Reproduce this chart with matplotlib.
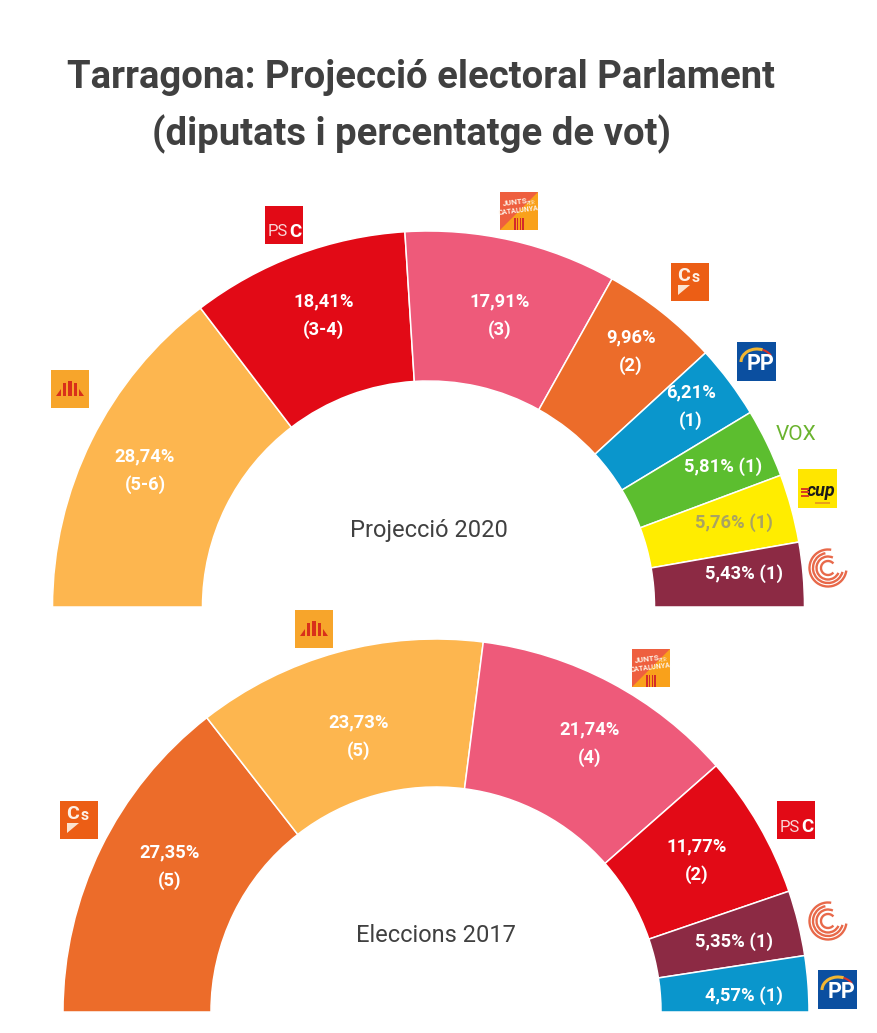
# Projeccio electoral Tarragona: two half donuts, 2020 projection and 2017 results
import matplotlib
matplotlib.use("Agg")
import matplotlib.pyplot as plt
from matplotlib.patches import Arc, Polygon, Rectangle

plt.rcParams['font.family'] = ['Roboto', 'DejaVu Sans']

W, H = 878, 1033

# projection 2020
partits_2020 = ['ERC', 'PSC', 'JxCat', 'Cs', 'PP', 'Vox', 'CUP', 'Comuns']
vots_2020 = [28.74, 18.41, 17.91, 9.96, 6.21, 5.81, 5.76, 5.43]
etiquetes_2020 = ['28,74%\n(5-6)', '18,41%\n(3-4)', '17,91%\n(3)', '9,96%\n(2)', '6,21%\n(1)',
                  '5,81% (1)', '5,76% (1)', '5,43% (1)']

# elections 2017
partits_2017 = ['Cs', 'ERC', 'JxCat', 'PSC', 'Comuns', 'PP']
vots_2017 = [27.35, 23.73, 21.74, 11.77, 5.35, 4.57]
etiquetes_2017 = ['27,35%\n(5)', '23,73%\n(5)', '21,74%\n(4)', '11,77%\n(2)', '5,35% (1)', '4,57% (1)']

colors = {'ERC': '#FDB64F', 'PSC': '#E20A16', 'JxCat': '#EE5A7A', 'Cs': '#EC6C2A',
          'PP': '#0A96CC', 'Vox': '#5CBE2F', 'CUP': '#FFED00', 'Comuns': '#8C2A44'}

# label anchors in image pixels
pos_2020 = [(145, 470), (324, 315), (500, 315), (631, 351), (691, 406), (723, 466), (734, 522), (744, 573)]
pos_2017 = [(170, 866), (359, 736), (590, 743), (697, 860), (734, 941), (744, 995)]
logos_2020 = [(70, 389), (284, 225), (519, 211), (690, 282), (757, 361), (796, 433), (818, 488), (828, 568)]
logos_2017 = [(79, 820), (314, 629), (651, 668), (796, 820), (828, 921), (838, 989)]


def py(y):
    # the picture is measured from the top, the axes from the bottom
    return H - y


fig = plt.figure(figsize=(W / 100, H / 100), dpi=100)
ax = fig.add_axes([0, 0, 1, 1])


def semicercle(valors, partits, centre, radi, gruix):
    # the hidden slice is the lower half of the pie
    parts = valors + [sum(valors)]
    cols = [colors[p] for p in partits] + ['white']
    wedges, _ = ax.pie(parts, colors=cols, startangle=180, counterclock=False, radius=radi,
                       center=(centre[0], py(centre[1])), frame=True,
                       wedgeprops=dict(width=gruix, edgecolor='white', linewidth=1.1))
    wedges[-1].set_visible(False)


def etiquetes(textos, posicions, partits):
    for text, (x, y), p in zip(textos, posicions, partits):
        col = '#A9A362' if p == 'CUP' else 'white'
        ax.text(x, py(y + 1), text, color=col, fontsize=13.2, fontweight='bold', ha='center', va='center',
                linespacing=1.65)


def quadrat(x, y, color, costat=38):
    ax.add_patch(Rectangle((x - costat / 2, py(y) - costat / 2), costat, costat, color=color, lw=0, zorder=3))


# party logos, redrawn by hand
def logo(partit, x, y):
    if partit == 'ERC':
        quadrat(x, y, '#F7A52B')
        base = py(y + 7)
        ax.add_patch(Polygon([(x - 14, base), (x - 9, base), (x - 9, base + 7)], color='#D8301A', lw=0, zorder=4))
        ax.add_patch(Polygon([(x + 14, base), (x + 9, base), (x + 9, base + 7)], color='#D8301A', lw=0, zorder=4))
        for dx, alt in zip([-5.5, 0, 5.5], [13, 15.5, 13]):
            ax.add_patch(Rectangle((x + dx - 1.8, base), 3.6, alt, color='#D8301A', lw=0, zorder=4))
    elif partit == 'PSC':
        quadrat(x, y, '#E20A16')
        ax.text(x - 6.5, py(y + 7), 'PS', color='#F8D5D6', fontsize=12, ha='center', va='center', zorder=4)
        ax.text(x + 11, py(y + 7), 'C', color='white', fontsize=13.5, fontweight='bold', ha='center', va='center', zorder=4)
    elif partit == 'JxCat':
        quadrat(x, y, '#F9A11B')
        ax.add_patch(Polygon([(x - 19, py(y + 19)), (x - 19, py(y - 19)), (x + 19, py(y - 19))], color='#EE5F3F', lw=0, zorder=4))
        ax.text(x - 4, py(y - 9), 'JUNTS', color='#FDEFE3', fontsize=5.8, fontweight='bold', ha='center',
                va='center', rotation=7, zorder=5)
        ax.text(x + 12, py(y - 8), 'PER', color='#FDEFE3', fontsize=3.5, ha='center',
                va='center', rotation=7, zorder=5)
        ax.text(x, py(y), 'CATALUNYA', color='#FDEFE3', fontsize=5, fontweight='bold', ha='center',
                va='center', rotation=7, zorder=5)
        for dx in [-4, -1.3, 1.3, 4]:
            ax.add_patch(Rectangle((x + dx - 0.7, py(y) - 19), 1.4, 12, color='#D32A2A', lw=0, zorder=5))
    elif partit == 'Cs':
        quadrat(x, y, '#EC5E15')
        ax.text(x - 6, py(y - 6), 'C', color='#FDF0E6', fontsize=14, fontweight='bold', ha='center', va='center', zorder=4)
        ax.text(x + 5.5, py(y - 4), 's', color='#FDF0E6', fontsize=11.5, fontweight='bold', ha='center', va='center', zorder=4)
        ax.add_patch(Polygon([(x - 12, py(y + 3)), (x, py(y + 3)), (x - 12, py(y + 13))], color='#FBE3D0', lw=0, zorder=4))
    elif partit == 'PP':
        quadrat(x, y, '#0B4FA0', 39)
        ax.add_patch(Arc((x, py(y + 1)), 32, 26, theta1=65, theta2=180, color='#F2B632', lw=2.2, zorder=4))
        ax.add_patch(Arc((x, py(y + 1)), 32, 26, theta1=25, theta2=65, color='#D8322A', lw=1.5, zorder=4))
        ax.text(x + 3.5, py(y + 3), 'PP', color='white', fontsize=15.5, fontweight='bold', ha='center', va='center', zorder=5)
    elif partit == 'Vox':
        ax.text(x, py(y + 2), 'VOX', color='#6AB32E', fontsize=15, ha='center', va='center', zorder=4)
    elif partit == 'CUP':
        quadrat(x, y, '#FFE600', 39)
        ax.text(x + 3, py(y + 3), 'cup', color='#1A1A1A', fontsize=13, fontweight='bold', style='italic', ha='center', va='center', zorder=4)
        for dy in [-3.5, 0, 3.5]:
            ax.add_patch(Rectangle((x - 17, py(y + 4) + dy - 1), 8, 2, color='#D8401F', lw=0, zorder=4))
        ax.add_patch(Rectangle((x - 3, py(y + 15) - 1), 15, 2, color='#E9A01A', lw=0, zorder=4))
    elif partit == 'Comuns':
        for d, t1, t2 in [(37, 80, 352), (30, 100, 345), (23, 65, 335), (14, 40, 320)]:
            ax.add_patch(Arc((x, py(y)), d, d, theta1=t1, theta2=t2, color='#E8694A', lw=1.7, zorder=4))


semicercle(vots_2020, partits_2020, (428.5, 607), 376, 150)
semicercle(vots_2017, partits_2017, (436, 1012), 373, 148)
etiquetes(etiquetes_2020, pos_2020, partits_2020)
etiquetes(etiquetes_2017, pos_2017, partits_2017)
for p, (x, y) in zip(partits_2020, logos_2020):
    logo(p, x, y)
for p, (x, y) in zip(partits_2017, logos_2017):
    logo(p, x, y)

# titles
ax.text(421.5, py(77), 'Tarragona: Projecció electoral Parlament', fontsize=27.5, fontweight='bold', color='#404040', ha='center', va='center')
ax.text(412, py(134), '(diputats i percentatge de vot)', fontsize=27.5, fontweight='bold', color='#404040', ha='center', va='center')
ax.text(428.5, py(530), 'Projecció 2020', fontsize=17, color='#404040', ha='center', va='center')
ax.text(436, py(936), 'Eleccions 2017', fontsize=17, color='#404040', ha='center', va='center')

ax.set_xlim(0, W)
ax.set_ylim(0, H)
ax.set_aspect('auto')
ax.axis('off')

fig.savefig('out.png', dpi=100)
